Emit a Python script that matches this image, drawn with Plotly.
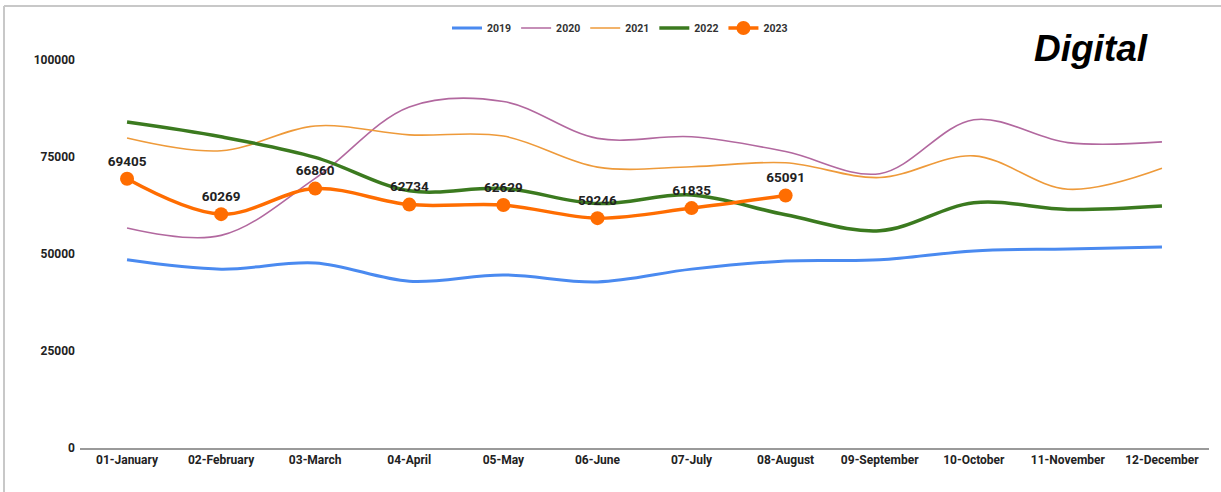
import plotly.graph_objects as go

months = ["01-January", "02-February", "03-March", "04-April", "05-May", "06-June",
          "07-July", "08-August", "09-September", "10-October", "11-November", "12-December"]

y2019 = [48500, 46100, 47700, 43000, 44600, 42800, 46100, 48200, 48500, 50800, 51300, 51800]
y2020 = [56700, 54800, 69500, 87900, 89300, 79800, 80200, 76400, 70700, 84600, 78700, 78900]
y2021 = [79900, 76600, 83000, 80700, 80400, 72400, 72500, 73500, 69700, 75300, 66700, 72100]
y2022 = [84000, 80200, 74900, 66300, 66900, 63000, 65200, 60100, 56000, 63200, 61500, 62400]
y2023 = [69405, 60269, 66860, 62734, 62629, 59246, 61835, 65091]

yticks = [0, 25000, 50000, 75000, 100000]

fig = go.Figure()

def add_line(name, vals, color, width):
    fig.add_trace(go.Scatter(
        x=months[:len(vals)], y=vals, name=name, mode="lines",
        line=dict(color=color, width=width, shape="spline", smoothing=1.0),
    ))

add_line("2019", y2019, "#4a8af0", 3)
add_line("2020", y2020, "#b2689f", 1.6)
add_line("2021", y2021, "#ee9a3a", 1.6)
add_line("2022", y2022, "#3b7a1f", 3.5)

fig.add_trace(go.Scatter(
    x=months[:len(y2023)], y=y2023, name="2023", mode="lines+markers+text",
    line=dict(color="#ff6d01", width=3.5, shape="spline", smoothing=1.0),
    marker=dict(color="#ff6d01", size=14),
    text=[str(v) for v in y2023], textposition="top center",
    textfont=dict(family="Roboto", size=13.5, color="#222222", weight="bold"),
    cliponaxis=False,
))

L, R, T, B = 80, 12, 60, 44
W, H = 1221, 492
pw, ph = W - L - R, H - T - B

def px(x):
    return (x - L) / pw

def py(y):
    return (H - B - y) / ph

fig.update_layout(
    width=W, height=H,
    margin=dict(l=L, r=R, t=T, b=B, autoexpand=False),
    paper_bgcolor="white", plot_bgcolor="white",
    font=dict(family="Roboto", size=12, color="#222222"),
    showlegend=True,
    legend=dict(orientation="h", x=px(620), xanchor="center", y=py(28), yanchor="middle",
                font=dict(family="Roboto", size=10.5, color="#333333", weight="bold"),
                itemwidth=30, traceorder="normal"),
    xaxis=dict(showgrid=False, showline=True, linecolor="#9a9a9a", linewidth=1.5,
               ticks="", tickfont=dict(family="Roboto", size=12, color="#222222", weight="bold"),
               zeroline=False, range=[-0.5, 11.5], automargin=False),
    yaxis=dict(range=[0, 100000], tickvals=yticks, ticktext=[str(v) for v in yticks],
               showgrid=False, zeroline=False, showline=False, ticks="",
               tickfont=dict(family="Roboto", size=12, color="#222222", weight="bold"),
               ticklabelstandoff=4, automargin=False),
    annotations=[dict(text="<b><i>Digital</i></b>", xref="paper", yref="paper",
                      x=px(1091), y=py(48), xanchor="center", yanchor="middle",
                      showarrow=False,
                      font=dict(family="Liberation Sans", size=37, color="#000000"))],
    shapes=[
        dict(type="line", xref="paper", yref="paper", x0=px(4), x1=px(4), y0=py(500), y1=py(6),
             line=dict(color="#c8c8c8", width=2)),
        dict(type="line", xref="paper", yref="paper", x0=px(4), x1=px(1230), y0=py(6), y1=py(6),
             line=dict(color="#c8c8c8", width=2)),
    ],
)

fig.write_html("out.html", config={"displayModeBar": False},
               post_script="document.body.style.margin='0';document.body.style.overflow='hidden';")
